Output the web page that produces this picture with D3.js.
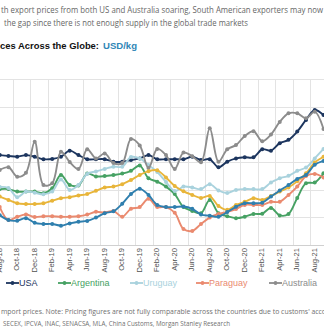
<!DOCTYPE html>
<html>
<head>
<meta charset="utf-8">
<script src="https://cdn.jsdelivr.net/npm/d3@7"></script>
<style>
  html, body { margin: 0; padding: 0; background: #fff; overflow: hidden; }
  svg { display: block; }
</style>
</head>
<body>
<svg id="chart" width="324" height="334"></svg>
<script>
// monthly beef prices, USD/kg
const months = ["Aug-18", "Sep-18", "Oct-18", "Nov-18", "Dec-18", "Jan-19", "Feb-19", "Mar-19", "Apr-19", "May-19",
    "Jun-19", "Jul-19", "Aug-19", "Sep-19", "Oct-19", "Nov-19", "Dec-19", "Jan-20", "Feb-20", "Mar-20",
    "Apr-20", "May-20", "Jun-20", "Jul-20", "Aug-20", "Sep-20", "Oct-20", "Nov-20", "Dec-20", "Jan-21",
    "Feb-21", "Mar-21", "Apr-21", "May-21", "Jun-21", "Jul-21", "Aug-21", "Sep-21"];

const usa = [6.25, 6.22, 6.19, 6.25, 6.19, 6.10, 6.11, 6.19, 6.41, 6.25, 6.10, 6.10, 6.10, 6.01, 6.01, 6.07, 6.13, 6.25, 6.10,
    6.10, 6.10, 6.10, 6.19, 6.07, 6.10, 5.81, 6.01, 6.13, 6.17, 6.17, 6.46, 6.41, 6.68, 6.80, 7.10, 7.52, 7.88, 7.70];
const argentina = [5.02, 5.02, 4.93, 4.93, 4.93, 4.87, 5.05, 5.53, 5.17, 5.15, 5.58, 5.48, 5.49, 5.53, 5.58, 5.68, 5.87, 5.41, 5.29,
    5.11, 4.84, 4.37, 4.23, 4.15, 4.63, 4.15, 4.04, 3.97, 4.02, 4.12, 4.13, 4.34, 4.07, 4.12, 4.70, 5.23, 5.26, 5.59];
const uruguay = [5.10, 5.06, 4.73, 4.93, 4.89, 4.83, 4.93, 5.37, 4.99, 5.17, 5.57, 5.66, 5.75, 5.83, 5.83, 6.18, 6.13, 5.89, 5.64,
    5.28, 4.95, 5.11, 5.08, 5.02, 5.20, 4.97, 4.88, 4.99, 5.02, 5.02, 5.02, 5.26, 5.41, 5.50, 5.68, 5.80, 6.13, 6.47];
const paraguay = [4.37, 3.90, 4.02, 4.10, 4.01, 4.04, 4.04, 4.02, 4.02, 4.04, 4.10, 4.20, 4.17, 4.23, 4.02, 4.31, 4.37, 4.67, 4.37,
    4.37, 4.17, 3.58, 3.51, 3.76, 3.99, 4.12, 4.20, 4.30, 4.45, 4.45, 4.45, 4.56, 4.56, 4.81, 5.11, 5.49, 5.57, 5.44];
const australia = [5.71, 5.81, 5.47, 5.61, 6.73, 5.17, 5.23, 6.37, 6.00, 5.75, 6.46, 6.13, 6.31, 5.96, 5.96, 6.83, 6.60, 5.78, 6.47,
    6.25, 5.75, 6.34, 6.21, 5.99, 7.22, 6.01, 6.46, 6.61, 6.94, 7.11, 6.75, 6.99, 7.45, 7.76, 7.76, 7.58, 7.82, 7.19];
const brazil = [4.75, 4.63, 4.51, 4.48, 4.48, 4.51, 4.60, 4.69, 4.73, 4.79, 4.84, 4.96, 5.08, 5.11, 5.20, 5.35, 5.53, 5.67, 5.70,
    5.44, 5.13, 4.94, 4.81, 4.70, 4.77, 4.41, 4.27, 4.45, 4.56, 4.69, 4.63, 4.77, 4.93, 5.08, 5.30, 5.59, 5.98, 6.19];
const newZealand = [4.08, 3.90, 3.88, 3.97, 3.80, 3.76, 3.76, 3.70, 3.78, 3.84, 3.87, 3.99, 4.15, 4.22, 4.49, 4.84, 5.03, 4.81, 4.45,
    4.37, 4.37, 4.39, 4.31, 4.10, 4.06, 4.02, 4.19, 4.38, 4.51, 4.51, 4.53, 4.75, 4.97, 5.17, 5.39, 5.53, 5.90, 6.04];

const yTicks = [3, 4, 5, 6, 7, 8, 9];

const series = [
    { name: "USA", values: usa, color: "#1c355e", legend: true },
    { name: "Argentina", values: argentina, color: "#46a163", legend: true },
    { name: "Uruguay", values: uruguay, color: "#a9d2dd", legend: true },
    { name: "Paraguay", values: paraguay, color: "#ea8a6f", legend: true },
    { name: "Australia", values: australia, color: "#8c8c8c", legend: true },
    { name: "Brazil", values: brazil, color: "#e8b53a", legend: false },
    { name: "New Zealand", values: newZealand, color: "#2f7fae", legend: false }
];

const svg = d3.select("#chart");

const x = d3.scalePoint()
    .domain(months)
    .range([-0.3, 323.5]);
const y = d3.scaleLinear()
    .domain([3, 9])
    .range([245, 79]);

function drawHeader() {
    let header = svg.append('g')
        .attr("id", 'header-g')
        .style("font-family", "'Open Sans', sans-serif")
        .attr("fill", "#666")
        .style("font-size", "8.3px");

    header.append('text')
        .attr('x', 1).attr('y', 13)
        .attr('textLength', 322).attr('lengthAdjust', 'spacingAndGlyphs')
        .text("th export prices from both US and Australia soaring, South American exporters may now");
    header.append('text')
        .attr('x', 4).attr('y', 26)
        .attr('textLength', 244).attr('lengthAdjust', 'spacingAndGlyphs')
        .text("the gap since there is not enough supply in the global trade markets");

    let title = svg.append('g')
        .attr("id", 'title-g')
        .style("font-family", "'Liberation Sans', Arial, sans-serif")
        .style("font-weight", "bold")
        .style("font-size", "9.8px");
    title.append('text')
        .attr('x', 0).attr('y', 49)
        .attr('fill', '#111')
        .attr('textLength', 99).attr('lengthAdjust', 'spacingAndGlyphs')
        .text("ces Across the Globe:");
    title.append('text')
        .attr('x', 103).attr('y', 49)
        .attr('fill', '#2f86b6')
        .attr('textLength', 34).attr('lengthAdjust', 'spacingAndGlyphs')
        .text("USD/kg");
}

function drawGrid() {
    let grid = svg.append('g')
        .attr("id", 'grid-g');
    let step = x.step();

    grid.selectAll('.h-grid')
        .data(yTicks.slice(1))
        .enter()
        .append('line')
        .classed('h-grid', true)
        .attr('x1', 0).attr('x2', 324)
        .attr('y1', d => Math.round(y(d)) + 0.5)
        .attr('y2', d => Math.round(y(d)) + 0.5)
        .attr('stroke', '#e3e3e3')
        .attr('stroke-width', 1);

    grid.selectAll('.v-grid')
        .data(months.filter((m, i) => i % 2 == 0))
        .enter()
        .append('line')
        .classed('v-grid', true)
        .attr('x1', d => Math.round(x(d) - step / 2) + 0.5)
        .attr('x2', d => Math.round(x(d) - step / 2) + 0.5)
        .attr('y1', y(9)).attr('y2', y(3))
        .attr('stroke', '#e3e3e3')
        .attr('stroke-width', 1);

    grid.append('line')
        .attr('x1', 0).attr('x2', 324)
        .attr('y1', Math.round(y(3)) + 0.5)
        .attr('y2', Math.round(y(3)) + 0.5)
        .attr('stroke', '#d0d0d0');
}

function drawAxis() {
    let axis = svg.append('g')
        .attr("id", 'x-axis-g')
        .style("font-family", "'Liberation Sans', Arial, sans-serif")
        .style("font-size", "7.6px")
        .attr('fill', '#505050');

    axis.selectAll('text')
        .data(months.filter((m, i) => i % 2 == 0))
        .enter()
        .append('text')
        .attr('transform', d => "translate(" + (x(d) - 0.5) + ",248) rotate(-90)")
        .attr('text-anchor', 'end')
        .attr('dy', '0.35em')
        .text(d => d);
}

function drawSeries() {
    let line = d3.line()
        .x((v, i) => x(months[i]))
        .y(v => y(v))
        .curve(d3.curveCatmullRom.alpha(0.5));

    let seriesGroup = svg.append('g')
        .attr("id", 'series-g');

    series.forEach(s => {
        let g = seriesGroup.append('g');
        g.append('path')
            .datum(s.values)
            .attr('d', line)
            .attr('fill', 'none')
            .attr('stroke', s.color)
            .attr('stroke-width', 1.9);
        g.selectAll('circle')
            .data(s.values)
            .enter()
            .append('circle')
            .attr('cx', (v, i) => x(months[i]))
            .attr('cy', v => y(v))
            .attr('r', 2)
            .attr('fill', s.color);
    });
}

function drawLegend() {
    let legend = svg.append('g')
        .attr("id", 'legend-g')
        .style("font-family", "'Liberation Sans', Arial, sans-serif")
        .style("font-size", "9px");
    let legendX = [6, 58, 130, 196, 269];

    series.filter(s => s.legend).forEach((s, i) => {
        let item = legend.append('g')
            .attr('transform', "translate(" + legendX[i] + ",283)");
        item.append('line')
            .attr('x1', 0).attr('x2', 13)
            .attr('y1', 0).attr('y2', 0)
            .attr('stroke', s.color)
            .attr('stroke-width', 1.8);
        item.append('circle')
            .attr('cx', 6.5).attr('cy', 0)
            .attr('r', 1.9)
            .attr('fill', s.color);
        item.append('text')
            .attr('x', 13).attr('y', 0)
            .attr('dy', '0.35em')
            .attr('fill', s.color)
            .text(s.name);
    });
}

function drawFooter() {
    let footer = svg.append('g')
        .attr("id", 'footer-g')
        .style("font-family", "'Open Sans', sans-serif")
        .attr("fill", "#707070")
        .style("font-size", "7px");
    footer.append('text')
        .attr('x', 1).attr('y', 314)
        .attr('textLength', 325).attr('lengthAdjust', 'spacingAndGlyphs')
        .text("mport prices. Note: Pricing figures are not fully comparable across the countries due to customs' acco");
    footer.append('text')
        .attr('x', 3).attr('y', 326)
        .attr('textLength', 227).attr('lengthAdjust', 'spacingAndGlyphs')
        .text("SECEX, IPCVA, INAC, SENACSA, MLA, China Customs, Morgan Stanley Research");
}

drawHeader();
drawGrid();
drawAxis();
drawSeries();
drawLegend();
drawFooter();
</script>
</body>
</html>
